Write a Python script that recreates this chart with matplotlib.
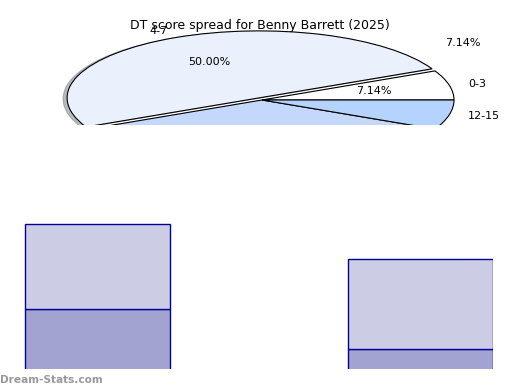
import matplotlib.pyplot as plt

# Pie data (score ranges and counts)
ranges = ['0-3', '4-7', '8-11', '12-15']
counts = [1, 7, 5, 1]
pie_colors = ['#ffffff', '#eaf1fd', '#c4d8fb', '#b4d4ff']
explode = [0.0, 0.035, 0.0, 0.0]

# Bar data (two stacked bars)
bar_pos = [0, 1]
bar_bottom = [10, 6]
bar_top = [8.5, 9]

W, H = 520, 390
fig = plt.figure(figsize=(5.2, 3.9), dpi=100)

# pie axes: stretched ellipse, clipped at the bottom
ax = fig.add_axes([0, 1 - 125 / H, 1, 125 / H])
wedges, texts, autotexts = ax.pie(
    counts, labels=ranges, colors=pie_colors, explode=explode,
    autopct='%1.2f%%', startangle=0, counterclock=True,
    shadow={'ox': -0.015, 'oy': -0.01, 'shade': 0.5},
    labeldistance=1.1, pctdistance=0.6,
    wedgeprops=dict(edgecolor='black', linewidth=0.8),
    textprops=dict(fontsize=8))
ax.set_aspect('auto')
ax.set_xlim(-262 / 192, (W - 262) / 192)
ax.set_ylim(-25 / 67, 100 / 67)
ax.axis('off')
for a in ax.patches + ax.texts:
    a.set_clip_on(True)
    a.set_clip_path(ax.patch)
# the last slice's percentage sits at the upper right
autotexts[3].set_position((1.047, 0.85))
ax.text(0.5, 1 - 26 / 125, 'DT score spread for Benny Barrett (2025)',
        transform=ax.transAxes, ha='center', va='center', fontsize=9,
        clip_on=False)

# bar axes, clipped at the bottom and right
bx = fig.add_axes([0, 1 - 369 / H, 493 / W, (369 - 140) / H])
bx.bar(bar_pos, bar_bottom, width=0.449, color='#a3a3d1',
       edgecolor='#000099', linewidth=1)
bx.bar(bar_pos, bar_top, bottom=bar_bottom, width=0.449, color='#cccce4',
       edgecolor='#000099', linewidth=1)
bx.set_xlim(-97.5 / 323, 1.226)
bx.set_ylim(4, 26.9)
bx.axis('off')

fig.text(0.0, 1 - 380 / H, 'Dream-Stats.com', ha='left', va='center',
         fontsize=7.6, color='#999999', fontweight='bold')

fig.savefig('out.png', dpi=100)
